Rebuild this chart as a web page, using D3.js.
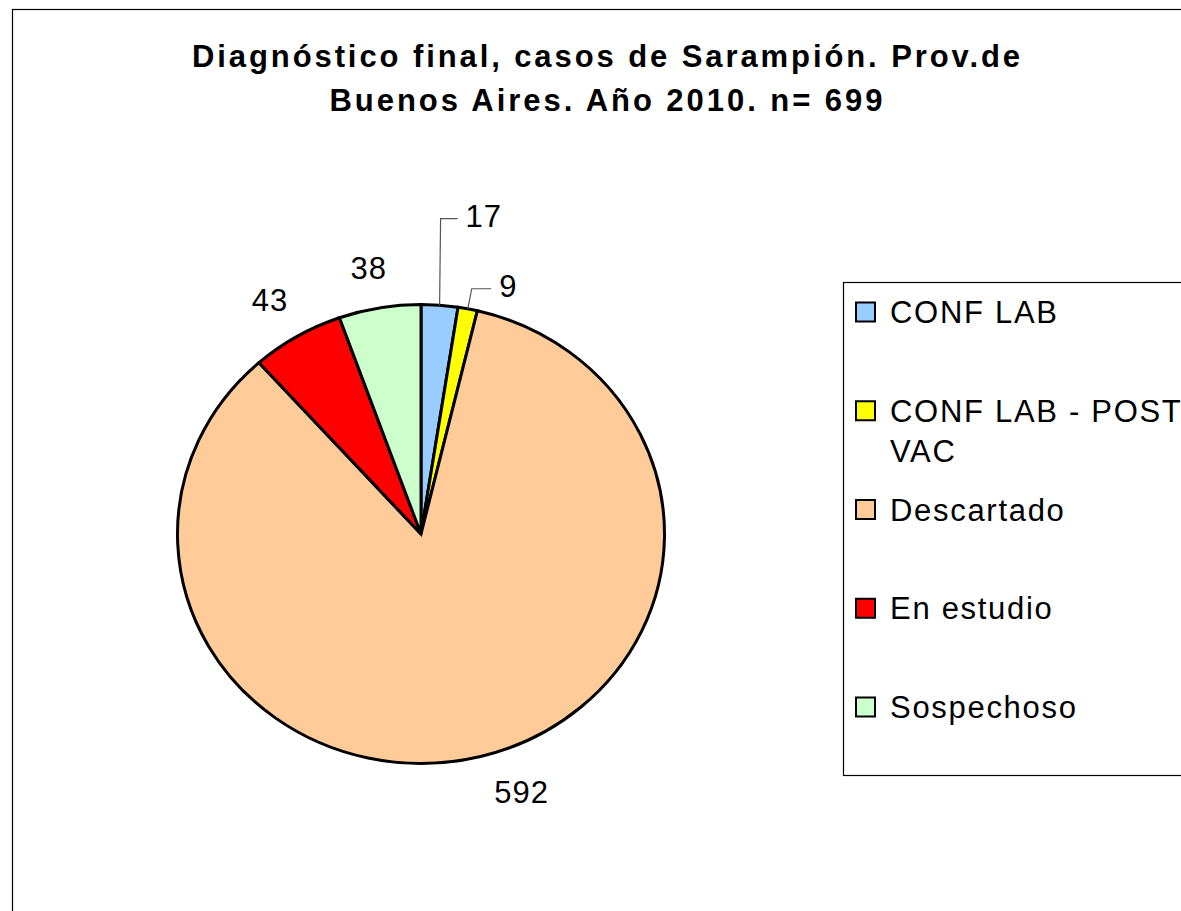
<!DOCTYPE html>
<html>
<head>
<meta charset="utf-8">
<script src="https://cdn.jsdelivr.net/npm/d3@7"></script>
<style>
	body { margin: 0; background: #fff; }
	svg { display: block; font-family: "Liberation Sans", Arial, sans-serif; }
	.slice { stroke: #000; stroke-width: 3px; }
	.leader { fill: none; stroke: #555; stroke-width: 1.2px; }
	.lbl { font-size: 31px; letter-spacing: 1px; fill: #000; }
	.legend text { font-size: 31px; letter-spacing: 1.7px; fill: #000; }
</style>
</head>
<body>
<div id="content"></div>
<script>

	var categories = ["CONF LAB", "CONF LAB - POST VAC", "Descartado", "En estudio", "Sospechoso"];
	var values = [17, 9, 592, 43, 38];
	var colors = ["#99CCFF", "#FFFF00", "#FFCC99", "#FF0000", "#CCFFCC"];
	var legendLines = [["CONF LAB"], ["CONF LAB - POST", "VAC"], ["Descartado"], ["En estudio"], ["Sospechoso"]];
	var titleLines = ["Diagnóstico final, casos de Sarampión. Prov.de", "Buenos Aires. Año 2010. n= 699"];
	var titleWidths = [828, 553];

	var width = 1181, height = 911;
	var cx = 421, cy = 534, rx = 243.5, ry = 229.5;

	// label tweaks (pixels), leader only for the thin slices
	var labelNudge = [
		{dx: 42, dy: -62, leader: true, bend: 1},
		{dx: 35, dy: 4, leader: true, bend: 4},
		{dx: 34, dy: 9},
		{dx: -12, dy: -13},
		{dx: -6, dy: -13}
	];

	var svg = d3.select("#content").append("svg")
		.attr("width", width)
		.attr("height", height);

	// chart border (goes off the right and bottom edge)
	svg.append("rect")
		.attr("x", 12.5).attr("y", 9.5)
		.attr("width", 1200).attr("height", 950)
		.attr("fill", "#fff").attr("stroke", "#000").attr("stroke-width", 1.2);

	svg.append("g").selectAll("text")
		.data(titleLines)
		.enter().append("text")
		.attr("x", 606)
		.attr("y", function(d, i) { return 67 + i * 44; })
		.attr("text-anchor", "middle")
		.attr("textLength", function(d, i) { return titleWidths[i]; })
		.attr("lengthAdjust", "spacing")
		.style("font-size", "31px")
		.style("font-weight", "bold")
		.text(function(d) { return d; });

	var data = categories.map(function(c, i) { return {name: c, value: values[i], color: colors[i]}; });

	var pie = d3.pie().sort(null).value(function(d) { return d.value; });
	var arcs = pie(data);

	var arc = d3.arc().innerRadius(0).outerRadius(rx);

	svg.append("g")
		.attr("transform", "translate(" + cx + "," + cy + ") scale(1," + (ry / rx) + ")")
		.selectAll("path")
		.data(arcs)
		.enter().append("path")
		.attr("class", "slice")
		.attr("vector-effect", "non-scaling-stroke")
		.attr("d", arc)
		.attr("fill", function(d) { return d.data.color; });

	function onEllipse(a, k) {
		return [cx + k * rx * Math.sin(a), cy - k * ry * Math.cos(a)];
	}

	var labels = svg.append("g");
	arcs.forEach(function(d, i) {
		var mid = (d.startAngle + d.endAngle) / 2;
		var p = onEllipse(mid, 1.12);
		var n = labelNudge[i];
		var lx = p[0] + n.dx, ly = p[1] + n.dy;
		var t = labels.append("text")
			.attr("class", "lbl")
			.attr("x", lx)
			.attr("y", ly)
			.attr("dy", "0.36em")
			.attr("text-anchor", "middle")
			.text(d.value);
		if (n.leader) {
			var w = t.node().getBBox().width;
			var e = onEllipse(mid, 1.0);
			var yy = ly + 3;
			labels.append("path")
				.attr("class", "leader")
				.attr("d", d3.line()([[e[0], e[1]], [e[0] + n.bend, yy], [lx - w / 2 - 8, yy]]));
		}
	});

	// legend
	var legend = svg.append("g").attr("class", "legend");
	legend.append("rect")
		.attr("x", 843.5).attr("y", 282.5)
		.attr("width", 400).attr("height", 493)
		.attr("fill", "#fff").attr("stroke", "#000").attr("stroke-width", 1.2);

	var ly = d3.scalePoint().domain(categories).range([312, 707]);

	var item = legend.selectAll("g.item")
		.data(data)
		.enter().append("g")
		.attr("class", "item")
		.attr("transform", function(d) { return "translate(0," + ly(d.name) + ")"; });

	item.append("rect")
		.attr("x", 856).attr("y", -9.5)
		.attr("width", 19).attr("height", 19)
		.attr("fill", function(d) { return d.color; })
		.attr("stroke", "#000").attr("stroke-width", 2);

	item.each(function(d, i) {
		d3.select(this).selectAll("text")
			.data(legendLines[i])
			.enter().append("text")
			.attr("x", 890)
			.attr("y", function(t, j) { return 11 + j * 40; })
			.text(function(t) { return t; });
	});

</script>
</body>
</html>
